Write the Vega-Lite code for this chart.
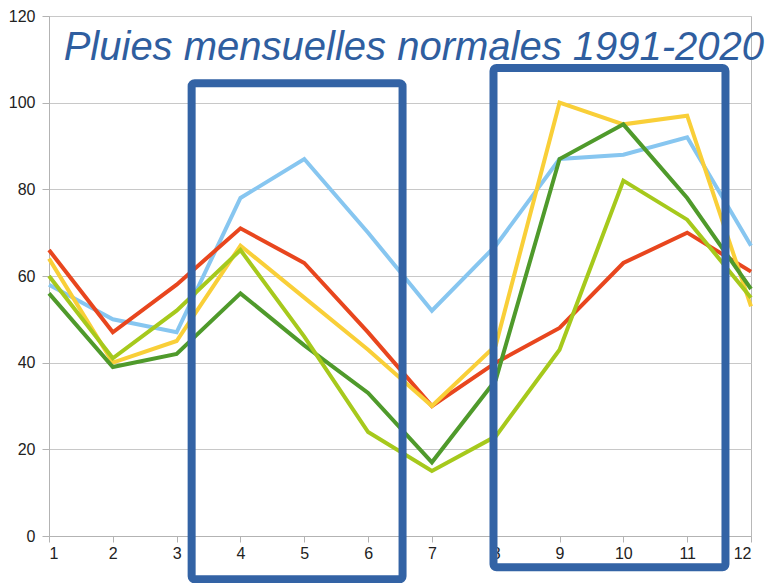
{
  "$schema": "https://vega.github.io/schema/vega-lite/v6.json",
  "width": 702,
  "height": 520,
  "autosize": "none",
  "padding": {"left": 49, "top": 16, "right": 23, "bottom": 47},
  "background": "white",
  "config": {
    "view": {"stroke": "#b8b8b8", "strokeWidth": 1},
    "font": "Liberation Sans"
  },
  "datasets": {
    "rain": [
      {"series": "A", "month": 1, "mm": 58}, {"series": "A", "month": 2, "mm": 50}, {"series": "A", "month": 3, "mm": 47}, {"series": "A", "month": 4, "mm": 78}, {"series": "A", "month": 5, "mm": 87}, {"series": "A", "month": 6, "mm": 70}, {"series": "A", "month": 7, "mm": 52}, {"series": "A", "month": 8, "mm": 67}, {"series": "A", "month": 9, "mm": 87}, {"series": "A", "month": 10, "mm": 88}, {"series": "A", "month": 11, "mm": 92}, {"series": "A", "month": 12, "mm": 67},
      {"series": "B", "month": 1, "mm": 66}, {"series": "B", "month": 2, "mm": 47}, {"series": "B", "month": 3, "mm": 58}, {"series": "B", "month": 4, "mm": 71}, {"series": "B", "month": 5, "mm": 63}, {"series": "B", "month": 6, "mm": 47}, {"series": "B", "month": 7, "mm": 30}, {"series": "B", "month": 8, "mm": 40}, {"series": "B", "month": 9, "mm": 48}, {"series": "B", "month": 10, "mm": 63}, {"series": "B", "month": 11, "mm": 70}, {"series": "B", "month": 12, "mm": 61},
      {"series": "C", "month": 1, "mm": 64}, {"series": "C", "month": 2, "mm": 40}, {"series": "C", "month": 3, "mm": 45}, {"series": "C", "month": 4, "mm": 67}, {"series": "C", "month": 5, "mm": 55}, {"series": "C", "month": 6, "mm": 43}, {"series": "C", "month": 7, "mm": 30}, {"series": "C", "month": 8, "mm": 44}, {"series": "C", "month": 9, "mm": 100}, {"series": "C", "month": 10, "mm": 95}, {"series": "C", "month": 11, "mm": 97}, {"series": "C", "month": 12, "mm": 53},
      {"series": "D", "month": 1, "mm": 56}, {"series": "D", "month": 2, "mm": 39}, {"series": "D", "month": 3, "mm": 42}, {"series": "D", "month": 4, "mm": 56}, {"series": "D", "month": 5, "mm": 44}, {"series": "D", "month": 6, "mm": 33}, {"series": "D", "month": 7, "mm": 17}, {"series": "D", "month": 8, "mm": 36}, {"series": "D", "month": 9, "mm": 87}, {"series": "D", "month": 10, "mm": 95}, {"series": "D", "month": 11, "mm": 78}, {"series": "D", "month": 12, "mm": 57},
      {"series": "E", "month": 1, "mm": 60}, {"series": "E", "month": 2, "mm": 41}, {"series": "E", "month": 3, "mm": 52}, {"series": "E", "month": 4, "mm": 66}, {"series": "E", "month": 5, "mm": 46}, {"series": "E", "month": 6, "mm": 24}, {"series": "E", "month": 7, "mm": 15}, {"series": "E", "month": 8, "mm": 23}, {"series": "E", "month": 9, "mm": 43}, {"series": "E", "month": 10, "mm": 82}, {"series": "E", "month": 11, "mm": 73}, {"series": "E", "month": 12, "mm": 55}
    ],
    "boxes": [
      {"x1": 3.235, "x2": 6.54, "y1": 104.5, "y2": -10.0},
      {"x1": 7.965, "x2": 11.6, "y1": 108.0, "y2": -7.2}
    ],
    "heading": [
      {"x": 1.23, "y": 109.9, "label": "Pluies mensuelles normales 1991-2020"}
    ]
  },
  "layer": [
    {
      "data": {"name": "rain"},
      "mark": {"type": "line", "strokeWidth": 4, "clip": false},
      "encoding": {
        "x": {
          "field": "month", "type": "quantitative",
          "scale": {"domain": [1, 12], "nice": false, "zero": false},
          "axis": {
            "title": null, "values": [1,2,3,4,5,6,7,8,9,10,11,12], "format": "d", "grid": false,
            "domain": true, "domainColor": "#b3b3b3", "tickColor": "#b3b3b3", "tickSize": 6,
            "labelPadding": 3, "labelFontSize": 16, "labelColor": "#222222", "labelFont": "Liberation Sans"
          }
        },
        "y": {
          "field": "mm", "type": "quantitative",
          "scale": {"domain": [0, 120], "nice": false},
          "axis": {
            "title": null, "values": [0,20,40,60,80,100,120], "format": "d", "grid": true, "gridColor": "#c8c8c8",
            "domain": true, "domainColor": "#b3b3b3", "tickColor": "#b3b3b3", "tickSize": 7,
            "labelPadding": 7, "labelFontSize": 16, "labelColor": "#222222", "labelFont": "Liberation Sans"
          }
        },
        "color": {
          "field": "series", "type": "nominal",
          "scale": {"domain": ["A", "B", "C", "D", "E"], "range": ["#87c6f0", "#e8461e", "#f9cf38", "#4f9a2b", "#a6c91c"]},
          "legend": null
        }
      }
    },
    {
      "data": {"name": "boxes"},
      "mark": {"type": "rect", "filled": false, "stroke": "#3363a5", "strokeWidth": 8, "cornerRadius": 3, "clip": false},
      "encoding": {
        "x": {"field": "x1", "type": "quantitative"},
        "x2": {"field": "x2"},
        "y": {"field": "y1", "type": "quantitative"},
        "y2": {"field": "y2"}
      }
    },
    {
      "data": {"name": "heading"},
      "mark": {"type": "text", "align": "left", "baseline": "alphabetic", "fontSize": 40, "fontStyle": "italic", "font": "Liberation Sans", "color": "#2f5e9f"},
      "encoding": {
        "x": {"field": "x", "type": "quantitative"},
        "y": {"field": "y", "type": "quantitative"},
        "text": {"field": "label"}
      }
    }
  ]
}
